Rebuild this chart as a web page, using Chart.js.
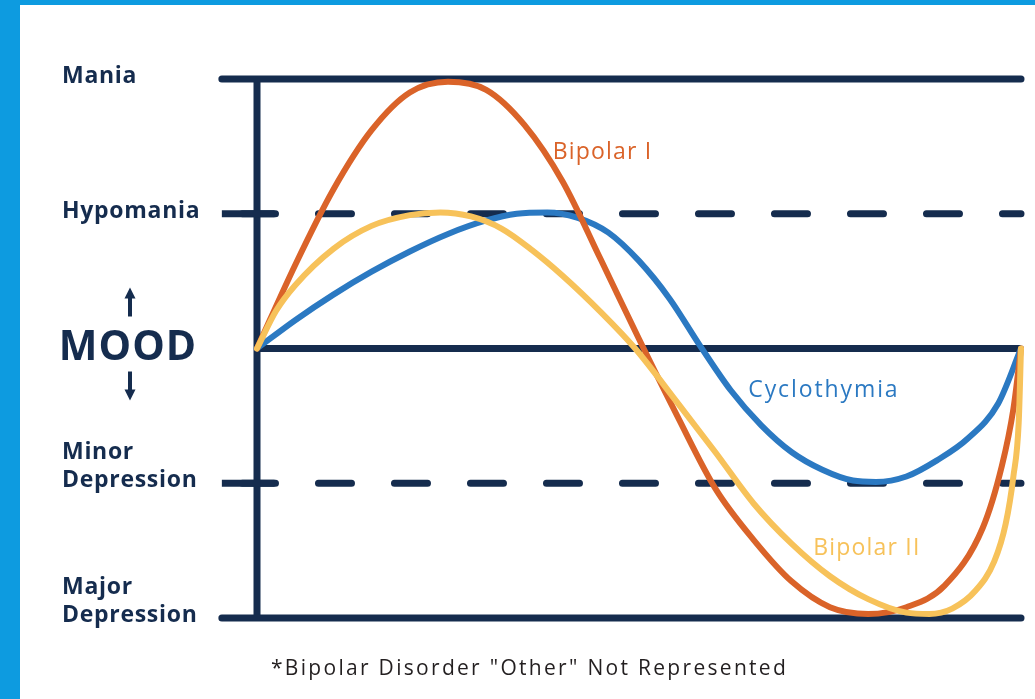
<!DOCTYPE html>
<html>
<head>
<meta charset="utf-8">
<script src="https://cdn.jsdelivr.net/npm/chart.js@4"></script>
<style>
  html, body { margin: 0; padding: 0; }
  body { width: 1035px; height: 699px; background: #0d9be0; position: relative; overflow: hidden; }
  #panel { position: absolute; left: 20px; top: 5px; right: 0; bottom: 0; background: #fff; }
  #moodChart { position: absolute; left: 0; top: 0; }
</style>
</head>
<body>
<div id="panel"></div>
<canvas id="moodChart" width="1035" height="699"></canvas>
<script>
// mood levels, top to bottom
const moodLevels = [2, 1, 0, -1, -2];
const moodLabels = [["Mania"], ["Hypomania"], ["MOOD"], ["Minor", "Depression"], ["Major", "Depression"]];
const dashedLevels = [1, -1];

// one cycle, x = 0..100, y = mood level
const bipolarI = [
    [0, 0], [5, 0.62], [10, 1.18], [15, 1.62], [20, 1.90], [25, 1.98], [30, 1.92], [35, 1.66],
    [40, 1.24], [45, 0.66], [50, 0.07], [55, -0.50], [60, -1.04], [65, -1.42], [70, -1.73],
    [75, -1.92], [80, -1.97], [85, -1.92], [90, -1.76], [95, -1.33], [97.5, -0.87], [99, -0.45],
    [100, 0]
];
const bipolarII = [
    [0, 0], [2.5, 0.28], [5, 0.47], [10, 0.74], [15, 0.91], [20, 0.99], [24, 1.01], [28, 0.98],
    [32, 0.89], [36, 0.73], [40, 0.54], [45, 0.27], [49.5, 0], [55, -0.40], [60, -0.77],
    [65, -1.15], [70, -1.45], [75, -1.69], [80, -1.86], [85, -1.96], [88, -1.97], [91, -1.93],
    [94, -1.80], [96.5, -1.58], [98, -1.30], [99, -0.95], [99.7, -0.55], [100, 0]
];
const cyclothymia = [
    [0, 0], [5, 0.21], [10, 0.40], [15, 0.57], [20, 0.72], [25, 0.85], [30, 0.95], [34, 1.00],
    [38, 1.01], [42, 0.97], [46, 0.86], [50, 0.65], [54, 0.37], [58, 0.02], [62, -0.31],
    [66, -0.57], [70, -0.77], [74, -0.90], [78, -0.98], [81, -0.99], [85, -0.95], [89, -0.83],
    [93, -0.67], [97, -0.41], [100, 0]
];

const seriesNames = ["Bipolar II", "Bipolar I", "Cyclothymia"];
const seriesNameAt = [[72.8, -1.53], [38.7, 1.41], [64.3, -0.36]]; // x, baseline
const footnote = "*Bipolar Disorder \"Other\" Not Represented";

const NAVY = "#152c4e";
const seriesColors = ["#f7c25a", "#da6329", "#2b79c2"];

const xStart = 0, xEnd = 100;
const tickStart = -4.6, tickEnd = 2.3, dashStart = -1.9;

function toPoints(pairs) {
    return pairs.map(p => ({ x: p[0], y: p[1] }));
}

function refLine(points, dashed) {
    return {
        data: points,
        borderColor: NAVY,
        borderWidth: 7,
        borderDash: dashed ? [33, 43] : [],
        borderCapStyle: dashed ? "round" : "butt",
        pointRadius: 0,
        clip: false,
        tension: 0
    };
}

function buildDatasets() {
    const curves = [bipolarII, bipolarI, cyclothymia].map((s, i) => ({
        label: seriesNames[i],
        data: toPoints(s),
        borderColor: seriesColors[i],
        borderWidth: 6,
        borderCapStyle: "round",
        borderJoinStyle: "round",
        cubicInterpolationMode: "monotone",
        pointRadius: 0,
        clip: false
    }));

    const refs = [];
    moodLevels.forEach(lvl => {
        if (dashedLevels.includes(lvl)) {
            refs.push(refLine([{ x: tickStart, y: lvl }, { x: tickEnd, y: lvl }], false));
            refs.push(refLine([{ x: dashStart, y: lvl }, { x: xEnd, y: lvl }], true));
        } else {
            const from = lvl === 0 ? xStart : tickStart;
            const d = refLine([{ x: from, y: lvl }, { x: xEnd, y: lvl }], false);
            if (lvl === 2 || lvl === -2) d.borderCapStyle = "round";
            refs.push(d);
        }
    });
    // vertical mood axis
    refs.push(refLine([{ x: xStart, y: -2 }, { x: xStart, y: 2 }], false));

    return curves.concat(refs);
}

/* -------------------------------
   Text: level names, MOOD arrows, curve names, footnote
---------------------------------*/
const textPlugin = {
    id: "moodText",
    afterDraw(chart) {
        const ctx = chart.ctx;
        const xs = chart.scales.x;
        const ys = chart.scales.y;
        ctx.save();
        ctx.textBaseline = "alphabetic";

        moodLevels.forEach((lvl, i) => {
            const py = ys.getPixelForValue(lvl);
            const lines = moodLabels[i];
            ctx.fillStyle = NAVY;
            if (lvl === 0) {
                ctx.font = "700 41px 'Open Sans'";
                ctx.textAlign = "center";
                ctx.letterSpacing = "1px";
                ctx.fillText(lines[0], 128, py + 11);
                drawArrow(ctx, 130, py - 32, py - 61);
                drawArrow(ctx, 130, py + 23, py + 52);
            } else {
                ctx.font = "700 23px 'Open Sans'";
                ctx.textAlign = "left";
                ctx.letterSpacing = "0.7px";
                lines.forEach((t, j) => {
                    ctx.fillText(t, 62, py + 4 - (lines.length - 1 - j) * 28);
                });
            }
        });

        ctx.font = "400 23px 'Open Sans'";
        ctx.textAlign = "left";
        seriesNames.forEach((name, i) => {
            ctx.fillStyle = seriesColors[i];
            ctx.letterSpacing = name === "Cyclothymia" ? "1.9px" : "1.2px";
            const at = seriesNameAt[i];
            ctx.fillText(name, xs.getPixelForValue(at[0]), ys.getPixelForValue(at[1]));
        });

        ctx.font = "400 21px 'Open Sans'";
        ctx.letterSpacing = "2.3px";
        ctx.fillStyle = "#231f20";
        ctx.fillText(footnote, 271, 675);
        ctx.restore();
    }
};

function drawArrow(ctx, x, yFrom, yTip) {
    const dir = yTip < yFrom ? -1 : 1;
    ctx.strokeStyle = NAVY;
    ctx.lineWidth = 4;
    ctx.beginPath();
    ctx.moveTo(x, yFrom);
    ctx.lineTo(x, yTip - dir * 8);
    ctx.stroke();
    ctx.beginPath();
    ctx.moveTo(x, yTip);
    ctx.lineTo(x - 5.5, yTip - dir * 11);
    ctx.lineTo(x + 5.5, yTip - dir * 11);
    ctx.closePath();
    ctx.fill();
}

new Chart(document.getElementById("moodChart").getContext("2d"), {
    type: "line",
    data: { datasets: buildDatasets() },
    options: {
        responsive: false,
        animation: false,
        devicePixelRatio: 1,
        layout: { padding: { left: 257, right: 14, top: 79, bottom: 81 } },
        scales: {
            x: { type: "linear", min: xStart, max: xEnd, display: false },
            y: { type: "linear", min: -2, max: 2, display: false }
        },
        plugins: {
            legend: { display: false },
            tooltip: { enabled: false }
        }
    },
    plugins: [textPlugin]
});
</script>
</body>
</html>
